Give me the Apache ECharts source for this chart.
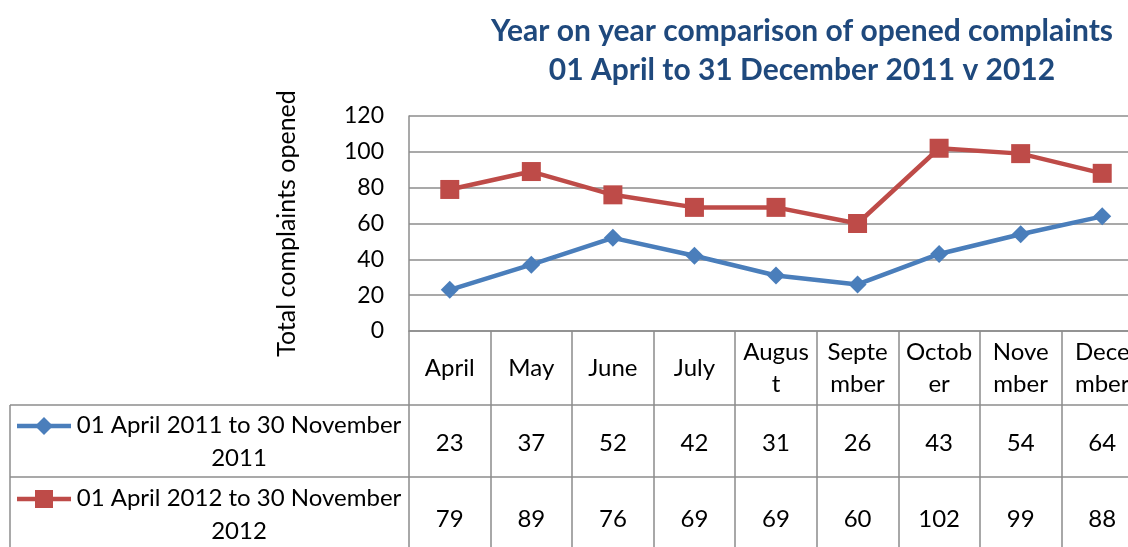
<!DOCTYPE html>
<html>
<head>
<meta charset="utf-8">
<script src="https://cdn.jsdelivr.net/npm/echarts@6/dist/echarts.min.js"></script>
<style>
html, body { margin: 0; padding: 0; background: #fff; }
#chart { width: 1128px; height: 547px; }
</style>
</head>
<body>
<div id="chart"></div>
<script>
// chart data
var months = ["April", "May", "June", "July", "August", "September", "October", "November", "December"];
// header cells as wrapped in the data table
var monthCells = ["April", "May", "June", "July", "Augus\nt", "Septe\nmber", "Octob\ner", "Nove\nmber", "Dece\nmber"];
var seriesNames = ["01 April 2011 to 30 November\n2011", "01 April 2012 to 30 November\n2012"];
var opened2011 = [23, 37, 52, 42, 31, 26, 43, 54, 64];
var opened2012 = [79, 89, 76, 69, 69, 60, 102, 99, 88];
var yTicks = [0, 20, 40, 60, 80, 100, 120];

var FONT = "Lato";
var BLUE = "#4A7EBB";
var RED = "#BE4B48";
var GRID = "#8C8C8C";
var CELL = 24;

var chart = echarts.init(document.getElementById("chart"));

function cellLabel(v, i) {
    var head = monthCells[i].split("\n");
    var s;
    if (head.length == 1) {
        s = "{h1|" + head[0] + "}";
    } else {
        s = "{sp| }\n{h2|" + head[0] + "}\n{h2|" + head[1] + "}\n{sp| }";
    }
    s += "\n{r1|" + opened2011[i] + "}\n{r2|" + opened2012[i] + "}";
    return s;
}

var option = {
    animation: false,
    backgroundColor: "#fff",
    grid: {
        left: 409,
        top: 116,
        width: 734,
        height: 215,
        containLabel: false,
        outerBoundsMode: "none"
    },
    xAxis: {
        type: "category",
        data: months,
        boundaryGap: true,
        axisLine: { show: true, lineStyle: { color: GRID, width: 1.5 } },
        axisTick: { show: true, interval: 0, length: 230, lineStyle: { color: GRID, width: 1.5 } },
        axisLabel: {
            interval: 0,
            margin: 0,
            hideOverlap: false,
            color: "#000",
            fontFamily: FONT,
            fontSize: CELL,
            formatter: cellLabel,
            rich: {
                sp: { fontSize: 1, lineHeight: 5, height: 5 },
                h1: { fontFamily: FONT, fontSize: CELL, lineHeight: 74, height: 74, color: "#000" },
                h2: { fontFamily: FONT, fontSize: CELL, lineHeight: 32, height: 32, color: "#000" },
                r1: { fontFamily: FONT, fontSize: CELL, lineHeight: 76, height: 76, color: "#000" },
                r2: { fontFamily: FONT, fontSize: CELL, lineHeight: 76, height: 76, color: "#000" }
            }
        },
        splitLine: { show: false }
    },
    yAxis: {
        type: "value",
        min: yTicks[0],
        max: yTicks[yTicks.length - 1],
        interval: 20,
        name: "Total complaints opened",
        nameLocation: "middle",
        nameRotate: 90,
        nameGap: 110,
        nameTextStyle: { fontFamily: FONT, fontSize: 25, color: "#000" },
        axisLine: { show: true, lineStyle: { color: GRID, width: 1.5 } },
        axisTick: { show: false },
        axisLabel: { margin: 25, fontFamily: FONT, fontSize: 23, color: "#000" },
        splitLine: { show: true, lineStyle: { color: GRID, width: 1.5 } }
    },
    series: [
        {
            name: seriesNames[0],
            type: "line",
            data: opened2011,
            symbol: "diamond",
            symbolSize: [18, 18],
            color: BLUE,
            lineStyle: { color: BLUE, width: 4.5 },
            itemStyle: { color: BLUE },
            z: 3
        },
        {
            name: seriesNames[1],
            type: "line",
            data: opened2012,
            symbol: "rect",
            symbolSize: 19,
            color: RED,
            lineStyle: { color: RED, width: 4.5 },
            itemStyle: { color: RED },
            z: 2
        }
    ],
    graphic: [
        // title
        {
            type: "text",
            x: 802,
            y: 12,
            style: {
                text: "Year on year comparison of opened complaints\n01 April to 31 December 2011 v 2012",
                fontFamily: FONT,
                fontWeight: "bold",
                fontSize: 30,
                lineHeight: 39,
                fill: "#1F497D",
                align: "center",
                verticalAlign: "top"
            }
        },
        // table frame
        { type: "line", shape: { x1: 10, y1: 405, x2: 1128, y2: 405 }, style: { stroke: GRID, lineWidth: 1.5 } },
        { type: "line", shape: { x1: 10, y1: 477, x2: 1128, y2: 477 }, style: { stroke: GRID, lineWidth: 1.5 } },
        { type: "line", shape: { x1: 10, y1: 405, x2: 10, y2: 547 }, style: { stroke: GRID, lineWidth: 1.5 } },
        // legend keys
        { type: "line", shape: { x1: 17, y1: 426, x2: 71, y2: 426 }, style: { stroke: BLUE, lineWidth: 4.5 } },
        { type: "polygon", shape: { points: [[44, 417], [53, 426], [44, 435], [35, 426]] }, style: { fill: BLUE } },
        { type: "line", shape: { x1: 17, y1: 499, x2: 71, y2: 499 }, style: { stroke: RED, lineWidth: 4.5 } },
        { type: "rect", shape: { x: 35, y: 490, width: 18, height: 18 }, style: { fill: RED } },
        {
            type: "text",
            x: 239,
            y: 409,
            style: {
                text: seriesNames[0],
                fontFamily: FONT, fontSize: CELL, lineHeight: 33,
                fill: "#000", align: "center", verticalAlign: "top"
            }
        },
        {
            type: "text",
            x: 239,
            y: 482,
            style: {
                text: seriesNames[1],
                fontFamily: FONT, fontSize: CELL, lineHeight: 33,
                fill: "#000", align: "center", verticalAlign: "top"
            }
        }
    ]
};

chart.setOption(option);
</script>
</body>
</html>
